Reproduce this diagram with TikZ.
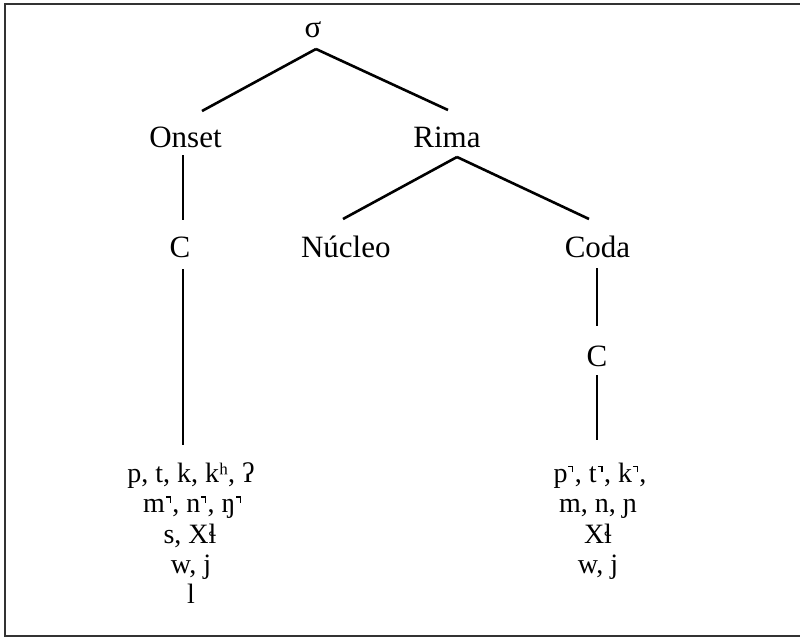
\documentclass[tikz,border=0pt]{standalone}
\usepackage{fontspec}
\setmainfont{Liberation Serif}
\usetikzlibrary{calc}
\newcommand\unrl{\kern0.8pt\raisebox{15pt}{\rule{5pt}{1.2pt}}\kern-1.2pt\raisebox{10pt}{\rule{1.2pt}{6.2pt}}\kern1.5pt}
\begin{document}
\begin{tikzpicture}[x=1pt,y=-1pt,
  lab/.style={inner sep=0pt,anchor=base,font=\fontsize{31}{31}\selectfont},
  lst/.style={inner sep=0pt,anchor=base,font=\fontsize{28}{28}\selectfont},
  edge/.style={line width=2.6pt,black}]
\useasboundingbox (0,0) rectangle (800,638);
\draw[line width=2.2pt,black!80] (5,4) rectangle (802,636);
\node[lab] (sigma) at (313,37) {σ};
\node[lab] (onset) at (185.5,147) {Onset};
\node[lab] (rima) at (447,147) {Rima};
\node[lab] (con) at (180,257) {C};
\node[lab] (nucleo) at (345.8,257) {Núcleo};
\node[lab] (coda) at (597.5,257) {Coda};
\node[lab] (ccoda) at (597,366) {C};
\node[lst] (on1) at (191,482) {p, t, k, kʰ, ʔ};
\node[lst] (on2) at (193,512.5) {m\unrl, n\unrl, ŋ\unrl};
\node[lst] (on3) at (190,543) {s, Xɬ};
\node[lst] (on4) at (191,573) {w, j};
\node[lst] (on5) at (191,603.5) {l};
\node[lst] (co1) at (600,482) {p\unrl, t\unrl, k\unrl,};
\node[lst] (co2) at (598,512.5) {m, n, ɲ};
\node[lst] (co3) at (598,543) {Xɬ};
\node[lst] (co4) at (598,573) {w, j};
\draw[edge] ($(sigma.base)+(3,12)$) -- ($(onset.base)+(16.5,-36)$);
\draw[edge] ($(sigma.base)+(3,12)$) -- ($(rima.base)+(1,-37)$);
\draw[edge] ($(onset.base)+(-2.5,8)$) -- ($(con.base)+(3,-37)$);
\draw[edge] ($(con.base)+(3,12)$) -- ($(on1.base)+(-8,-37)$);
\draw[edge] ($(rima.base)+(10,10)$) -- ($(nucleo.base)+(-2.8,-38)$);
\draw[edge] ($(rima.base)+(10,10)$) -- ($(coda.base)+(-8.5,-38)$);
\draw[edge] ($(coda.base)+(-0.5,11)$) -- ($(ccoda.base)+(0,-40)$);
\draw[edge] ($(ccoda.base)+(0,9)$) -- ($(co1.base)+(-3,-42)$);
\end{tikzpicture}
\end{document}
